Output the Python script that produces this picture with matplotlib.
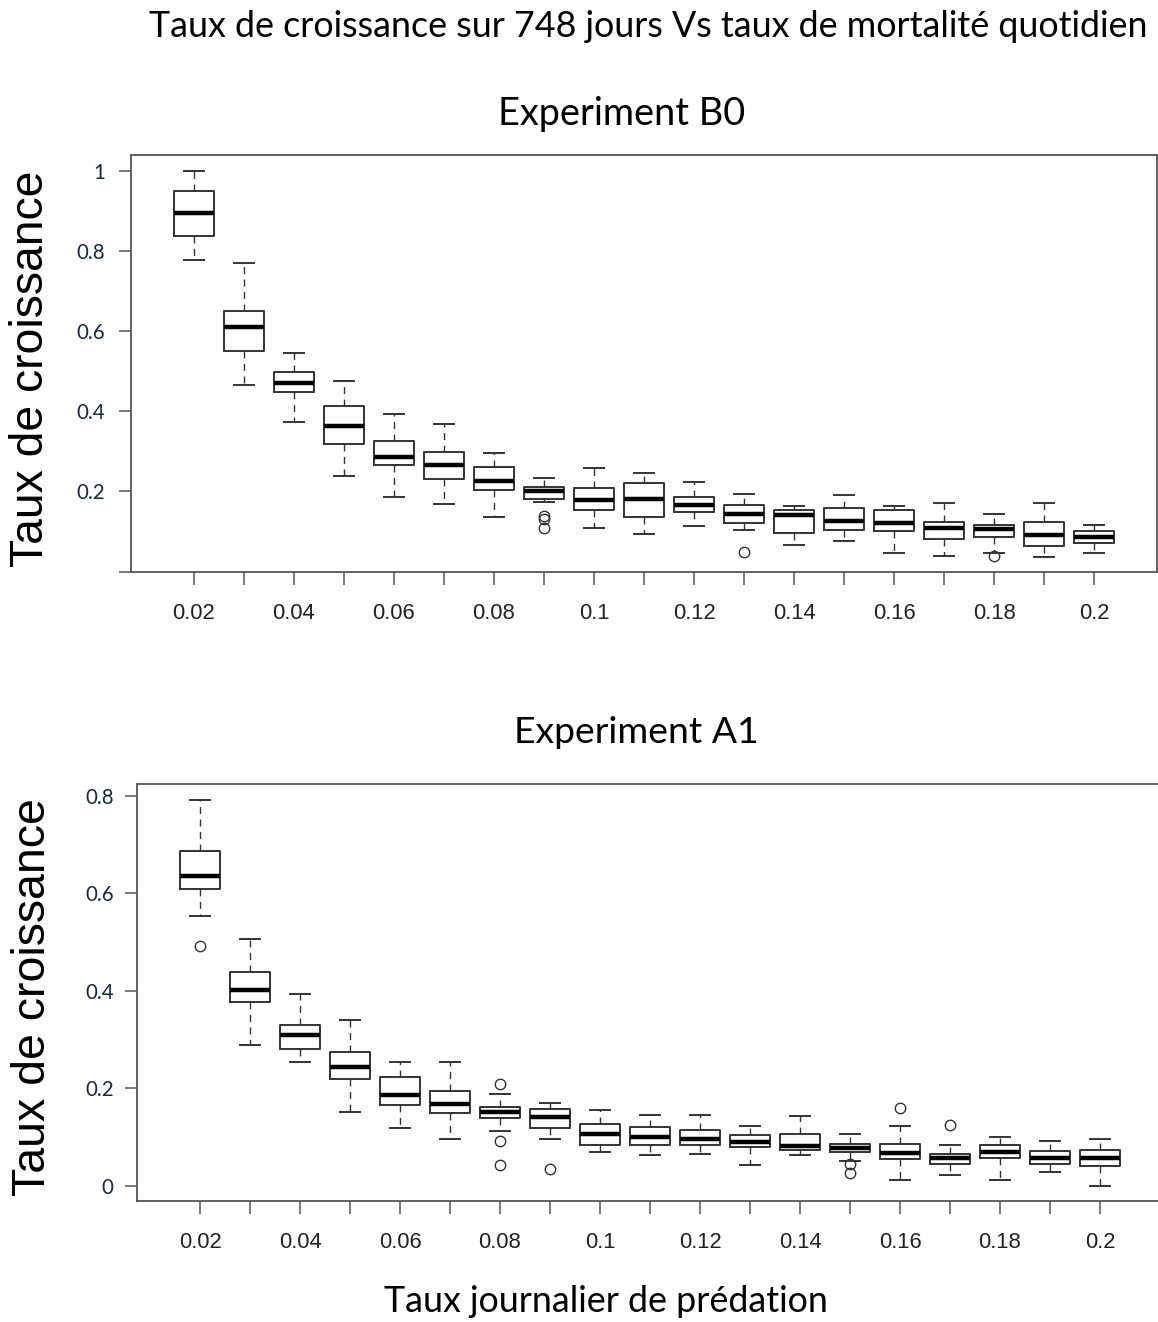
import matplotlib
matplotlib.use("Agg")
import matplotlib.pyplot as plt
from matplotlib.ticker import FixedLocator, FixedFormatter

# ---------------- data ----------------
rates = [0.02, 0.03, 0.04, 0.05, 0.06, 0.07, 0.08, 0.09, 0.10, 0.11,
         0.12, 0.13, 0.14, 0.15, 0.16, 0.17, 0.18, 0.19, 0.20]
xtick_labels = ["0.02", "", "0.04", "", "0.06", "", "0.08", "", "0.1", "",
                "0.12", "", "0.14", "", "0.16", "", "0.18", "", "0.2"]

# Experiment B0
b0_whislo = [0.777, 0.465, 0.374, 0.239, 0.187, 0.168, 0.137, 0.175, 0.108, 0.094,
             0.114, 0.103, 0.067, 0.077, 0.047, 0.040, 0.047, 0.037, 0.047]
b0_q1 = [0.837, 0.550, 0.447, 0.318, 0.267, 0.230, 0.204, 0.182, 0.155, 0.136,
         0.148, 0.121, 0.097, 0.105, 0.102, 0.082, 0.086, 0.065, 0.071]
b0_med = [0.895, 0.610, 0.471, 0.363, 0.287, 0.267, 0.226, 0.202, 0.180, 0.181,
          0.166, 0.144, 0.142, 0.126, 0.122, 0.109, 0.107, 0.092, 0.087]
b0_q3 = [0.950, 0.651, 0.499, 0.412, 0.327, 0.299, 0.262, 0.212, 0.209, 0.220,
         0.186, 0.166, 0.155, 0.158, 0.155, 0.125, 0.116, 0.125, 0.101]
b0_whishi = [1.000, 0.769, 0.545, 0.476, 0.393, 0.368, 0.297, 0.233, 0.258, 0.245,
             0.224, 0.193, 0.165, 0.190, 0.163, 0.171, 0.143, 0.171, 0.116]
b0_fliers = [[], [], [], [], [], [], [], [0.140, 0.131, 0.110], [], [],
             [], [0.050], [], [], [], [], [0.039], [], []]

# Experiment A1
a1_whislo = [0.554, 0.290, 0.254, 0.151, 0.119, 0.096, 0.112, 0.096, 0.069, 0.064,
             0.066, 0.044, 0.064, 0.052, 0.012, 0.022, 0.012, 0.029, 0.001]
a1_q1 = [0.608, 0.378, 0.281, 0.220, 0.166, 0.149, 0.139, 0.118, 0.084, 0.085,
         0.084, 0.081, 0.073, 0.070, 0.056, 0.046, 0.057, 0.046, 0.042]
a1_med = [0.635, 0.401, 0.310, 0.243, 0.186, 0.169, 0.152, 0.142, 0.106, 0.101,
          0.096, 0.090, 0.083, 0.079, 0.068, 0.058, 0.070, 0.058, 0.058]
a1_q3 = [0.686, 0.438, 0.331, 0.274, 0.223, 0.195, 0.163, 0.157, 0.128, 0.122,
         0.114, 0.105, 0.107, 0.087, 0.087, 0.066, 0.085, 0.072, 0.074]
a1_whishi = [0.792, 0.506, 0.393, 0.340, 0.254, 0.254, 0.189, 0.171, 0.155, 0.145,
             0.145, 0.123, 0.143, 0.107, 0.123, 0.084, 0.100, 0.092, 0.096]
a1_fliers = [[0.491], [], [], [], [], [], [0.210, 0.092, 0.044], [0.035], [], [],
             [], [], [], [0.045, 0.026], [0.159], [0.125], [], [], []]

title_main = "Taux de croissance sur 748 jours Vs taux de mortalité quotidien"
title_b0 = "Experiment B0"
title_a1 = "Experiment A1"
ylabel = "Taux de croissance"
xlabel = "Taux journalier de prédation"

# ---------------- figure ----------------
W, H = 1158, 1322
fig = plt.figure(figsize=(W / 100, H / 100), dpi=100)
fig.patch.set_facecolor("white")

def fx(px):
    return px / W

def fy(py):
    return 1 - py / H

FRAME = "#555555"
EDGE = "#333333"
UI_FONT = ["Lato", "DejaVu Sans"]
R_FONT = ["Liberation Sans", "DejaVu Sans"]


def make_stats(lo, q1, med, q3, hi, fl):
    out = []
    for i in range(len(med)):
        out.append(dict(med=med[i], q1=q1[i], q3=q3[i], whislo=lo[i],
                        whishi=hi[i], fliers=fl[i]))
    return out


def draw_panel(ax, stats, yticks, ytlabels, ylim, xlim):
    ax.bxp(stats, positions=rates, widths=0.008, showfliers=True,
           boxprops=dict(color=EDGE, linewidth=1.4),
           medianprops=dict(color="black", linewidth=3.2),
           whiskerprops=dict(color=EDGE, linewidth=1.0, linestyle=(0, (5, 4))),
           capprops=dict(color=EDGE, linewidth=1.4),
           capwidths=0.004,
           flierprops=dict(marker="o", markerfacecolor="none",
                           markeredgecolor=EDGE, markersize=7.5,
                           markeredgewidth=1.0, linestyle="none"))
    ax.set_xlim(*xlim)
    ax.set_ylim(*ylim)
    ax.xaxis.set_major_locator(FixedLocator(rates))
    ax.xaxis.set_major_formatter(FixedFormatter(xtick_labels))
    ax.yaxis.set_major_locator(FixedLocator(yticks))
    ax.yaxis.set_major_formatter(FixedFormatter(ytlabels))
    for s in ax.spines.values():
        s.set_color(FRAME)
        s.set_linewidth(1.3)
    ax.tick_params(axis="x", length=9.4, width=1.1, color=FRAME, pad=13,
                   labelsize=15.8, labelcolor="#222222")
    ax.tick_params(axis="y", length=8.6, width=1.1, color=FRAME, pad=10,
                   labelsize=14.8, labelcolor="#1a2740")
    for t in ax.get_xticklabels():
        t.set_fontfamily(R_FONT)
    for t in ax.get_yticklabels():
        t.set_fontfamily(UI_FONT)


# top panel: frame 131..1156.7 x, 155..572.3 y
ax1 = fig.add_axes([fx(131), fy(572.3), fx(1156.7 - 131), (572.3 - 155) / H])
draw_panel(ax1, make_stats(b0_whislo, b0_q1, b0_med, b0_q3, b0_whishi, b0_fliers),
           [0, 0.2, 0.4, 0.6, 0.8, 1.0], ["", "0.2", "0.4", "0.6", "0.8", "1"],
           (-0.0015, 1.039), (0.00747, 0.21245))

# bottom panel: frame 136.7..(off canvas) x, 784..1200.7 y
ax2 = fig.add_axes([fx(136.7), fy(1200.7), fx(1165 - 136.7), (1200.7 - 784) / H])
draw_panel(ax2, make_stats(a1_whislo, a1_q1, a1_med, a1_q3, a1_whishi, a1_fliers),
           [0, 0.2, 0.4, 0.6, 0.8], ["0", "0.2", "0.4", "0.6", "0.8"],
           (-0.030, 0.824), (0.007334, 0.213))
ax2.tick_params(axis="y", pad=8)

# ---------------- texts ----------------
t_main = fig.text(fx(648.5), fy(37), title_main, ha="center", va="baseline",
                  fontsize=22, family=UI_FONT, color="black")
t_b0 = fig.text(fx(621.5), fy(124.5), title_b0, ha="center", va="baseline",
                fontsize=24, family=UI_FONT, color="black")
t_a1 = fig.text(fx(636), fy(743), title_a1, ha="center", va="baseline",
                fontsize=24, family=UI_FONT, color="black")
t_xl = fig.text(fx(605.5), fy(1312), xlabel, ha="center", va="baseline",
                fontsize=22, family=UI_FONT, color="black")
t_y1 = fig.text(fx(31), fy(369), ylabel, ha="center", va="center",
                rotation=90, fontsize=32.8, family=R_FONT, color="black")
t_y2 = fig.text(fx(33), fy(997), ylabel, ha="center", va="center",
                rotation=90, fontsize=32.8, family=R_FONT, color="black")

# fit text sizes to the measured extents in the reference
fig.canvas.draw()
renderer = fig.canvas.get_renderer()
for t, target, horiz in [(t_main, 997, True), (t_b0, 247, True), (t_a1, 245, True),
                         (t_xl, 444, True), (t_y1, 395, False), (t_y2, 397, False)]:
    bb = t.get_window_extent(renderer)
    cur = bb.width if horiz else bb.height
    t.set_fontsize(t.get_fontsize() * target / cur)

fig.savefig("out.png", dpi=100, facecolor="white")
